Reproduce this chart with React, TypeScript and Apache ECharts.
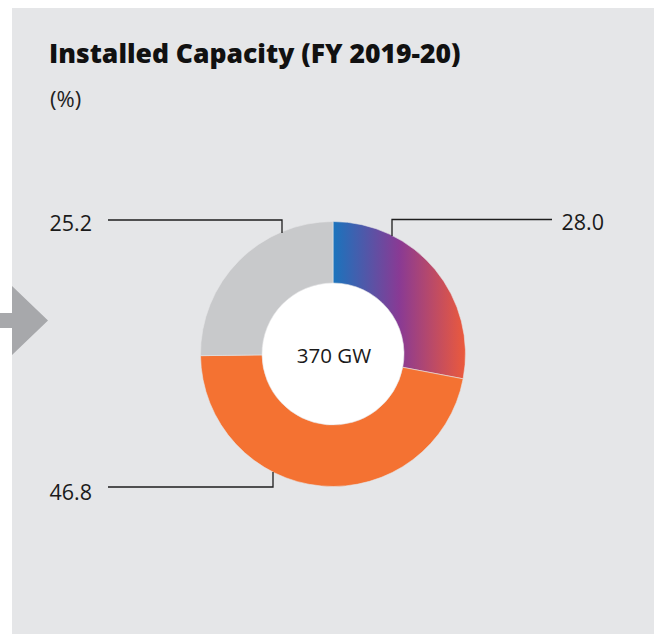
import React, { useEffect, useRef } from "react";
import * as echarts from "echarts";

const categories = ["Segment A", "Segment B", "Segment C"];
const values = [28.0, 46.8, 25.2];
const totalLabel = "370 GW";
const titleText = "Installed Capacity (FY 2019-20)";
const unitText = "(%)";

const CX = 333;
const CY = 354;
const R_IN = 71;
const R_OUT = 132.5;

export default function App() {
  const ref = useRef<HTMLDivElement>(null);
  useEffect(() => {
    if (!ref.current) return;
    const chart = echarts.init(ref.current, null, { renderer: "svg" });
    const lineStyle = { stroke: "#1e1e1e", lineWidth: 1.3, fill: "none" };
    const labelStyle = { fill: "#1a1a1a", fontSize: 21.5, fontFamily: "Open Sans", fontWeight: 400 };
    const gradient = new echarts.graphic.LinearGradient(0, 0, 1, 0, [
      { offset: 0, color: "#1a74bd" },
      { offset: 0.5, color: "#893a94" },
      { offset: 1, color: "#ec5a3b" },
    ]);
    const colors: any[] = [gradient, "#f47232", "#c8c9cb"];
    chart.setOption({
      animation: false,
      backgroundColor: "#ffffff",
      graphic: [
        { type: "rect", z: -10, shape: { x: 12, y: 8, width: 660, height: 640 }, style: { fill: "#e5e6e8" } },
        { type: "polygon", z: -9, shape: { points: [[0, 313], [12, 313], [12, 286], [48, 320.5], [12, 355], [12, 328], [0, 328]] }, style: { fill: "#a7a8ab" } },
        { type: "text", z: 5, x: 49, y: 52.5, style: { text: titleText, fontSize: 26.5, fontWeight: 800, fontFamily: "Open Sans", fill: "#111", verticalAlign: "middle" } },
        { type: "text", z: 5, x: 50, y: 98, style: { text: unitText, fontSize: 22, fontFamily: "Open Sans", fill: "#222", verticalAlign: "middle" } },
        { type: "circle", z: -5, shape: { cx: CX, cy: CY, r: R_IN + 1 }, style: { fill: "#ffffff" } },
        { type: "text", z: 10, x: CX + 1, y: CY + 1, style: { text: totalLabel, fontSize: 20.5, fontFamily: "Open Sans", fill: "#1a1a1a", align: "center", verticalAlign: "middle" } },
        // 28.0 label
        { type: "polyline", z: 10, shape: { points: [[392, 236], [392, 219.5], [552, 219.5]] }, style: lineStyle },
        { type: "text", z: 10, x: 561.5, y: 221, style: { ...labelStyle, text: values[0].toFixed(1), verticalAlign: "middle" } },
        // 46.8 label
        { type: "polyline", z: 10, shape: { points: [[273, 472], [273, 487], [108, 487]] }, style: lineStyle },
        { type: "text", z: 10, x: 49.5, y: 491, style: { ...labelStyle, text: values[1].toFixed(1), verticalAlign: "middle" } },
        // 25.2 label
        { type: "polyline", z: 10, shape: { points: [[282, 233], [282, 220], [108, 220]] }, style: lineStyle },
        { type: "text", z: 10, x: 49.5, y: 222, style: { ...labelStyle, text: values[2].toFixed(1), verticalAlign: "middle" } },
      ],
      series: [
        {
          type: "pie",
          z: 2,
          center: [CX, CY],
          radius: [R_IN, R_OUT],
          startAngle: 90,
          clockwise: true,
          silent: true,
          label: { show: false },
          labelLine: { show: false },
          itemStyle: { borderWidth: 0.6, borderColor: "#e5e6e8" },
          data: categories.map((c, i) => ({ name: c, value: values[i], itemStyle: { color: colors[i] } })),
        },
      ],
    });
    return () => chart.dispose();
  }, []);
  return <div ref={ref} style={{ position: "fixed", left: 0, top: 0, width: 654, height: 634 }} />;
}
